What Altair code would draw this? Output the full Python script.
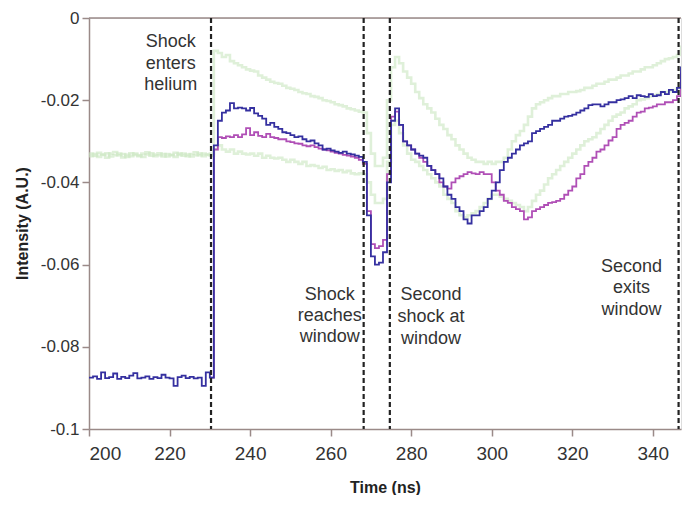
import altair as alt
import pandas as pd

# ---------------- data ----------------
T = list(range(200, 351))          # time, ns (1 ns steps)
TM = list(range(230, 351))         # magenta trace starts at the shock

BLUE = [
    -0.0875, -0.0872, -0.0878, -0.0862, -0.0876, -0.0874, -0.0865, -0.0878, -0.0873, -0.0876,
    -0.0870, -0.0864, -0.0877, -0.0875, -0.0872, -0.0878, -0.0874, -0.0876, -0.0868, -0.0875,
    -0.0877, -0.0895, -0.0874, -0.0870, -0.0876, -0.0873, -0.0877, -0.0875, -0.0895, -0.0862,
    -0.0875, -0.031, -0.025, -0.023, -0.0225, -0.0207, -0.022, -0.0218, -0.022, -0.0225,
    -0.0219, -0.0232, -0.0238, -0.0245, -0.026, -0.0255, -0.0265, -0.027, -0.0278, -0.028,
    -0.0285, -0.029, -0.0288, -0.0295, -0.030, -0.0298, -0.0305, -0.031, -0.032, -0.0318,
    -0.0322, -0.0325, -0.0328, -0.0325, -0.033, -0.0332, -0.0335, -0.0338, -0.035, -0.048,
    -0.058, -0.060, -0.0595, -0.057, -0.040, -0.025, -0.022, -0.026, -0.030, -0.031,
    -0.032, -0.033, -0.0335, -0.034, -0.036, -0.037, -0.038, -0.039, -0.041, -0.043,
    -0.044, -0.046, -0.047, -0.049, -0.050, -0.048, -0.048, -0.047, -0.046, -0.044,
    -0.042, -0.040, -0.037, -0.035, -0.034, -0.033, -0.032, -0.031, -0.0305, -0.030,
    -0.028, -0.0275, -0.027, -0.0265, -0.026, -0.025, -0.025, -0.0245, -0.024, -0.0238,
    -0.0235, -0.023, -0.0225, -0.022, -0.0212, -0.021, -0.021, -0.0215, -0.021, -0.0205,
    -0.0205, -0.020, -0.0198, -0.0195, -0.019, -0.0195, -0.0188, -0.019, -0.0192, -0.0185,
    -0.019, -0.0188, -0.018, -0.0185, -0.0175, -0.018, -0.017, -0.012, -0.011, -0.0105,
    -0.0105,
]

MAGENTA = [
    -0.0875, -0.032, -0.029, -0.0292, -0.0288, -0.029, -0.0285, -0.029, -0.0283, -0.0268,
    -0.0285, -0.0278, -0.0287, -0.029, -0.0282, -0.029, -0.0292, -0.0295, -0.0295, -0.030,
    -0.0302, -0.0305, -0.0306, -0.031, -0.0312, -0.031, -0.0314, -0.0318, -0.032, -0.0322,
    -0.0325, -0.0328, -0.033, -0.0333, -0.0335, -0.0337, -0.034, -0.0345, -0.0355, -0.047,
    -0.055, -0.056, -0.0555, -0.054, -0.038, -0.024, -0.0228, -0.026, -0.030, -0.031,
    -0.032, -0.033, -0.034, -0.035, -0.036, -0.037, -0.038, -0.040, -0.041, -0.0415,
    -0.040, -0.039, -0.0385, -0.038, -0.0375, -0.0378, -0.038, -0.0375, -0.038, -0.038,
    -0.040, -0.042, -0.043, -0.0445, -0.045, -0.046, -0.0465, -0.047, -0.049, -0.0485,
    -0.047, -0.0465, -0.046, -0.0455, -0.045, -0.0448, -0.0445, -0.044, -0.043, -0.042,
    -0.041, -0.039, -0.038, -0.036, -0.035, -0.034, -0.0325, -0.032, -0.031, -0.0298,
    -0.029, -0.027, -0.026, -0.0255, -0.025, -0.024, -0.023, -0.0228, -0.022, -0.0218,
    -0.0215, -0.021, -0.021, -0.0205, -0.0205, -0.020, -0.019, -0.0135, -0.013, -0.0128,
    -0.013,
]

GREEN_UPPER = [
    -0.0330, -0.0335, -0.0328, -0.0332, -0.0340, -0.0330, -0.0326, -0.0334, -0.0331, -0.0338,
    -0.0329, -0.0333, -0.0336, -0.0330, -0.0327, -0.0335, -0.0332, -0.0329, -0.0337, -0.0331,
    -0.0334, -0.0328, -0.0333, -0.0330, -0.0336, -0.0331, -0.0327, -0.0334, -0.0330, -0.0332,
    -0.033, -0.008, -0.0085, -0.0095, -0.009, -0.0105, -0.011, -0.0115, -0.012, -0.0125,
    -0.0128, -0.013, -0.014, -0.0145, -0.015, -0.0155, -0.0158, -0.016, -0.0165, -0.017,
    -0.0172, -0.0175, -0.018, -0.0183, -0.0185, -0.019, -0.0192, -0.0195, -0.020, -0.0202,
    -0.0205, -0.021, -0.0212, -0.0215, -0.022, -0.0222, -0.0225, -0.0228, -0.023, -0.028,
    -0.033, -0.036, -0.036, -0.034, -0.020, -0.012, -0.0095, -0.011, -0.013, -0.0145,
    -0.016, -0.018, -0.0195, -0.021, -0.022, -0.023, -0.0245, -0.026, -0.027, -0.0285,
    -0.0295, -0.031, -0.032, -0.033, -0.034, -0.0345, -0.035, -0.035, -0.0355, -0.035,
    -0.0355, -0.035, -0.035, -0.034, -0.032, -0.030, -0.0285, -0.0275, -0.026, -0.024,
    -0.022, -0.021, -0.0205, -0.020, -0.0195, -0.019, -0.019, -0.0185, -0.0185, -0.018,
    -0.018, -0.0178, -0.0175, -0.017, -0.017, -0.0165, -0.016, -0.016, -0.0155, -0.015,
    -0.015, -0.0145, -0.014, -0.014, -0.0135, -0.013, -0.013, -0.0125, -0.012, -0.012,
    -0.0115, -0.011, -0.0105, -0.010, -0.0098, -0.0095, -0.009, -0.007, -0.006, -0.005,
    -0.0045,
]

GREEN_LOWER = [
    -0.0336, -0.0331, -0.0338, -0.0333, -0.0329, -0.0337, -0.0334, -0.0330, -0.0339, -0.0333,
    -0.0336, -0.0330, -0.0334, -0.0338, -0.0332, -0.0329, -0.0336, -0.0334, -0.0331, -0.0337,
    -0.0333, -0.0338, -0.0330, -0.0335, -0.0332, -0.0337, -0.0334, -0.0330, -0.0336, -0.0333,
    -0.0335, -0.032, -0.031, -0.032, -0.0325, -0.032, -0.033, -0.0325, -0.033, -0.0332,
    -0.033, -0.0335, -0.033, -0.034, -0.0335, -0.034, -0.0342, -0.034, -0.0345, -0.035,
    -0.0345, -0.035, -0.0355, -0.035, -0.036, -0.0358, -0.036, -0.0365, -0.0362, -0.037,
    -0.0368, -0.0372, -0.037, -0.0375, -0.0372, -0.0378, -0.038, -0.0378, -0.038, -0.040,
    -0.043, -0.045, -0.045, -0.044, -0.035, -0.026, -0.025, -0.028, -0.031, -0.033,
    -0.0345, -0.035, -0.036, -0.037, -0.038, -0.039, -0.040, -0.041, -0.043, -0.044,
    -0.045, -0.047, -0.048, -0.0485, -0.048, -0.0475, -0.047, -0.046, -0.045, -0.044,
    -0.043, -0.043, -0.0435, -0.044, -0.0445, -0.045, -0.0455, -0.046, -0.047, -0.046,
    -0.0445, -0.043, -0.042, -0.0405, -0.039, -0.038, -0.037, -0.036, -0.035, -0.034,
    -0.033, -0.032, -0.031, -0.030, -0.0295, -0.029, -0.028, -0.027, -0.026, -0.025,
    -0.024, -0.0235, -0.023, -0.022, -0.0215, -0.021, -0.020, -0.0198, -0.0195, -0.019,
    -0.0188, -0.0185, -0.018, -0.018, -0.0178, -0.0175, -0.017, -0.012, -0.011, -0.0095,
    -0.009,
]

EVENT_TIMES = [230.3, 268.2, 274.7, 346.4]

ANN_TEXT = ["Shock", "enters", "helium",
            "Shock", "reaches", "window",
            "Second", "shock at", "window",
            "Second", "exits", "window"]
ANN_T = [220.3, 220.3, 220.3,
         259.8, 259.8, 259.8,
         284.9, 284.9, 284.9,
         334.7, 334.7, 334.7]
ANN_V = [-0.0059, -0.0112, -0.0164,
         -0.0673, -0.0725, -0.0776,
         -0.0675, -0.0728, -0.0780,
         -0.0606, -0.0657, -0.0710]

X_TICKS = [200, 220, 240, 260, 280, 300, 320, 340]
Y_TICKS = [-0.1, -0.08, -0.06, -0.04, -0.02, 0]

# ---------------- chart ----------------
FONT = "Liberation Sans"
AXIS_COL = "#9a8a88"

x_enc = alt.X(
    "t:Q",
    scale=alt.Scale(domain=[200, 347], nice=False, zero=False),
    axis=alt.Axis(
        values=X_TICKS, title="Time (ns)", grid=False,
        labelFont=FONT, labelFontSize=19, labelColor="#333333", labelPadding=8,
        tickSize=7, tickColor=AXIS_COL, tickWidth=1.5,
        domainColor=AXIS_COL, domainWidth=1.5,
        titleFont=FONT, titleFontSize=16, titleFontWeight="bold", titleColor="#222222",
        titleY=58, titleBaseline="middle",
    ),
)
y_enc = alt.Y(
    "v:Q",
    scale=alt.Scale(domain=[-0.1, 0], nice=False, zero=False),
    axis=alt.Axis(
        values=Y_TICKS, title="Intensity (A.U.)", grid=False,
        labelExpr="datum.value == 0 ? '0' : '-' + format(abs(datum.value), '.2~f')",
        labelFont=FONT, labelFontSize=17, labelColor="#333333", labelPadding=3,
        tickSize=7, tickColor=AXIS_COL, tickWidth=1.5,
        domainColor=AXIS_COL, domainWidth=1.5,
        titleFont=FONT, titleFontSize=16, titleFontWeight="bold", titleColor="#222222",
        titleAngle=270, titleX=-67, titleY=205, titleAlign="center", titleBaseline="middle",
    ),
)


def trace(times, values, color, width, opacity=1.0):
    df = pd.DataFrame({"t": times, "v": values})
    return alt.Chart(df).mark_line(
        interpolate="step-after", color=color, strokeWidth=width,
        strokeOpacity=opacity, clip=True
    ).encode(x=x_enc, y=y_enc)


g1 = trace(T, GREEN_UPPER, "#c9e6bf", 2.6, 0.6)
g2 = trace(T, GREEN_LOWER, "#c9e6bf", 2.6, 0.6)
mg = trace(TM, MAGENTA, "#b04fb6", 1.8)
bl = trace(T, BLUE, "#3530a0", 1.8)

top_border = alt.Chart(pd.DataFrame({"v": [0]})).mark_rule(
    color=AXIS_COL, strokeWidth=1.5
).encode(y=y_enc)

events = alt.Chart(pd.DataFrame({"t": EVENT_TIMES})).mark_rule(
    color="#222222", strokeWidth=2.2, strokeDash=[5, 3]
).encode(x=x_enc)

ann = alt.Chart(pd.DataFrame({"t": ANN_T, "v": ANN_V, "label": ANN_TEXT})).mark_text(
    font=FONT, fontSize=18, color="#333333", align="center", baseline="middle"
).encode(x=x_enc, y=y_enc, text="label:N")

chart = alt.layer(top_border, g1, g2, mg, bl, events, ann).properties(
    width=592, height=411,
    padding={"left": 81, "top": 10, "right": 2, "bottom": 66},
    autosize="none",
).configure_view(stroke=None).configure(background="white")

chart.save("out.html", embed_options={"renderer": "svg", "actions": False})
